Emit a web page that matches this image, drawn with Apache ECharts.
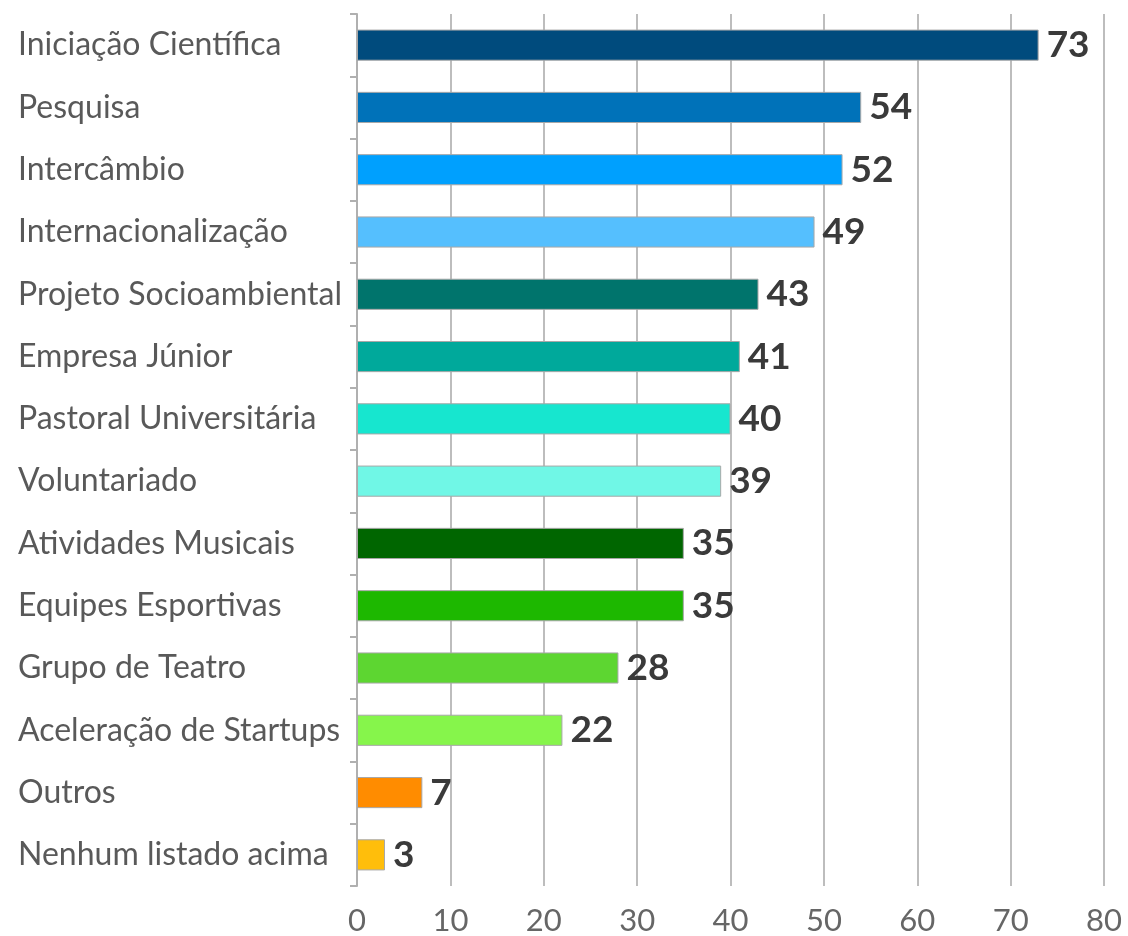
<!DOCTYPE html>
<html>
	<head>
		<meta charset="UTF-8">
		<script type="text/javascript" src="https://cdn.jsdelivr.net/npm/echarts@6/dist/echarts.min.js"></script>
		<title>Atividades</title>
		<style>
			html, body { margin: 0; padding: 0; background: #fff; }
			#chart { width: 1128px; height: 936px; }
		</style>
	</head>
	<body>
		<div id="chart"></div>
		<script type="text/javascript">
			// dados (de cima para baixo)
			var categorias = ['Iniciação Científica', 'Pesquisa', 'Intercâmbio', 'Internacionalização',
				'Projeto Socioambiental', 'Empresa Júnior', 'Pastoral Universitária', 'Voluntariado',
				'Atividades Musicais', 'Equipes Esportivas', 'Grupo de Teatro', 'Aceleração de Startups',
				'Outros', 'Nenhum listado acima'];
			var valores = [73, 54, 52, 49, 43, 41, 40, 39, 35, 35, 28, 22, 7, 3];
			var cores = ['#004b7d', '#0072b9', '#00a0fe', '#55bffe', '#00746c', '#00a99b', '#17e6cf',
				'#70f7e6', '#006600', '#1db800', '#5dd631', '#86f54b', '#ff8c00', '#ffbe0b'];
			var ticksX = [0, 10, 20, 30, 40, 50, 60, 70, 80];

			var myChart = echarts.init(document.getElementById('chart'));
			var option = {
				animation: false,
				textStyle: {fontFamily: 'Lato'},
				grid: {left: 357, right: 24, top: 14, bottom: 49, containLabel: false},
				xAxis: {
					type: 'value',
					min: ticksX[0],
					max: ticksX[ticksX.length - 1],
					interval: 10,
					axisLine: {show: false},
					axisTick: {show: false},
					axisLabel: {color: '#666', fontSize: 31, margin: 19, fontFamily: 'Lato'},
					splitLine: {lineStyle: {color: '#bdbdbd', width: 2}}
				},
				yAxis: {
					type: 'category',
					inverse: true,
					data: categorias,
					axisLine: {lineStyle: {color: '#b0b0b0', width: 2}},
					axisTick: {show: true, length: 7, lineStyle: {color: '#b0b0b0', width: 2}},
					axisLabel: {color: '#595959', fontSize: 32, align: 'left', margin: 339, fontFamily: 'Lato'}
				},
				series: [{
					type: 'bar',
					barWidth: '50%',
					data: valores.map(function (v, i) {
						return {value: v, itemStyle: {color: cores[i]}};
					}),
					itemStyle: {borderColor: '#a8a8a8', borderWidth: 1},
					label: {
						show: true,
						position: 'right',
						distance: 8,
						color: '#3a3a3a',
						fontSize: 37,
						fontWeight: 'bold',
						fontFamily: 'Lato'
					}
				}]
			};
			myChart.setOption(option);
		</script>
	</body>
</html>
